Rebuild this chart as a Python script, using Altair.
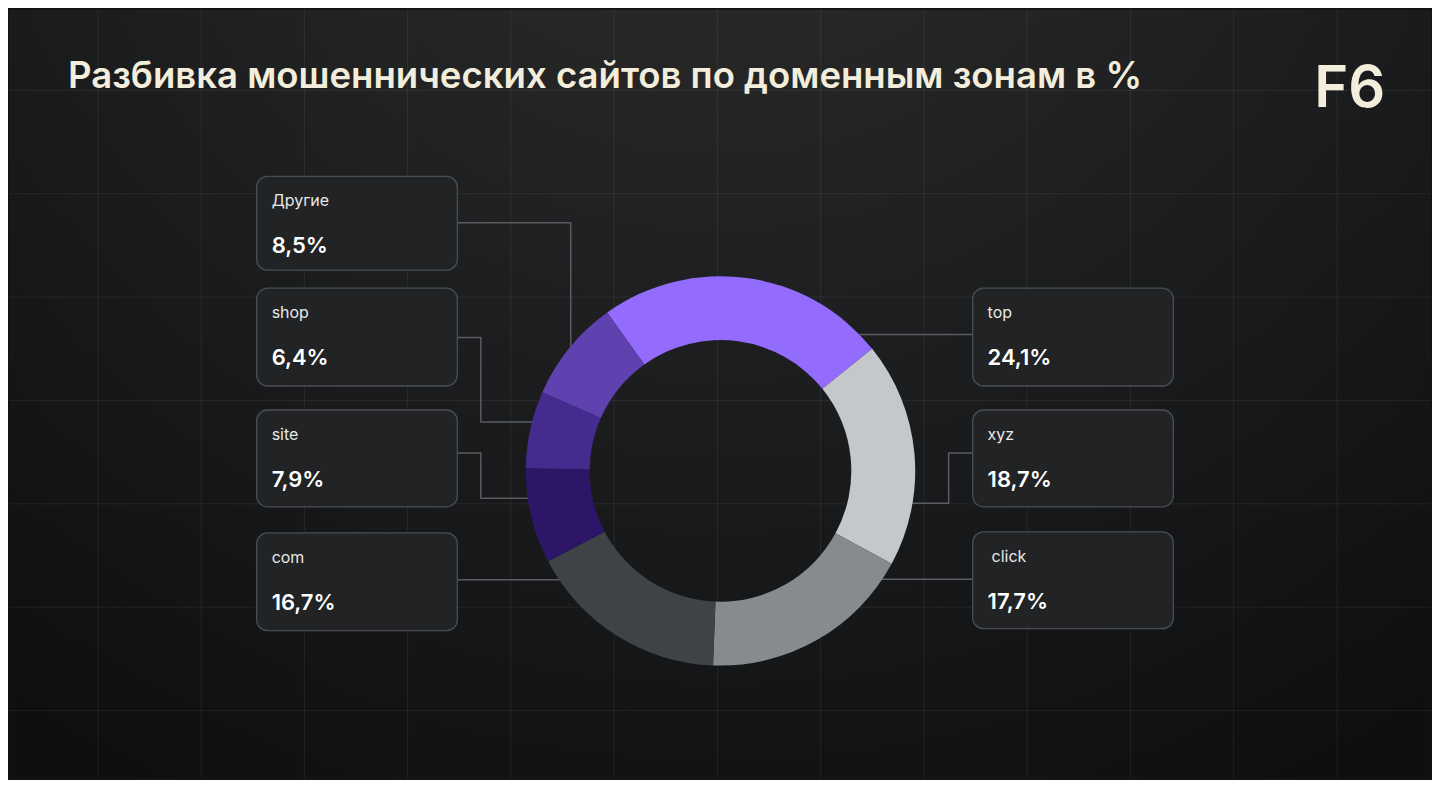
import altair as alt
import pandas as pd
import numpy as np

# ---------------- data ----------------
zones = ["top", "xyz", "click", "com", "site", "shop", "Другие"]
shares = [24.1, 18.7, 17.7, 16.7, 7.9, 6.4, 8.5]
value_labels = ["24,1%", "18,7%", "17,7%", "16,7%", "7,9%", "6,4%", "8,5%"]
box_names = ["top", "xyz", "click", "com", "site", "shop", "Другие"]
zone_colors = ["#936BFD", "#C5C8CA", "#878B8E", "#3F4246", "#2D1567", "#452B8E", "#5F42B0"]
title_text = "Разбивка мошеннических сайтов по доменным зонам в %"
logo_text = "F6"

# ---------------- layout (page pixels) ----------------
W, H = 1424, 770
OFF = 8
CX, CY = 720.5, 470
R_OUT, R_IN = 195, 131
START = -35.6 * np.pi / 180

box_left = [973, 973, 973, 256, 256, 256, 256]
box_top = [287, 409, 531, 532, 409, 287, 175]
box_bottom = [385, 506, 628, 630, 506, 385, 269]
name_indent = [15, 15, 19, 15, 15, 15, 15]
BOX_W = 201

connectors = {
    "top": [(860, 333.5), (973, 333.5)],
    "xyz": [(973, 452), (949, 452), (949, 502.5), (905, 502.5)],
    "click": [(973, 578.5), (875, 578.5)],
    "com": [(457, 579), (565, 579)],
    "site": [(457, 452), (480.5, 452), (480.5, 497.5), (535, 497.5)],
    "shop": [(457, 336.5), (480.5, 336.5), (480.5, 421), (540, 421)],
    "Другие": [(457, 221.5), (570.5, 221.5), (570.5, 360)],
}

grid_x = 97 + 103.4 * np.arange(13)
grid_y = 89 + 103.5 * np.arange(7)

xs = alt.Scale(domain=[OFF, OFF + W], nice=False, zero=False)
ys = alt.Scale(domain=[OFF, OFF + H], nice=False, zero=False, reverse=True)

def X(f):
    return alt.X(f, type="quantitative", scale=xs, axis=None)

def Y(f):
    return alt.Y(f, type="quantitative", scale=ys, axis=None)

# background
bg_df = pd.DataFrame({"x": [OFF], "x2": [OFF + W], "y": [OFF], "y2": [OFF + H]})
bg = alt.Chart(bg_df).mark_rect(
    fill=alt.RadialGradient(
        gradient="radial",
        x1=0.5, y1=0.02, r1=0.0,
        x2=0.5, y2=0.02, r2=0.85,
        stops=[
            alt.GradientStop(color="#2f2f2f", offset=0),
            alt.GradientStop(color="#1e1f20", offset=0.5),
            alt.GradientStop(color="#0e0f10", offset=1),
        ],
    )
).encode(x=X("x"), x2="x2", y=Y("y"), y2="y2")

vgrid = alt.Chart(pd.DataFrame({"x": grid_x})).mark_rule(
    color="#ffffff", opacity=0.07, strokeWidth=1
).encode(x=X("x"))
hgrid = alt.Chart(pd.DataFrame({"y": grid_y})).mark_rule(
    color="#ffffff", opacity=0.07, strokeWidth=1
).encode(y=Y("y"))

# connectors
rows = []
for z, pts in connectors.items():
    for i, (px, py) in enumerate(pts):
        rows.append({"zone": z, "i": i, "x": px, "y": py})
conn = alt.Chart(pd.DataFrame(rows)).mark_line(
    color="#5a5c5f", strokeWidth=1.5, strokeJoin="round"
).encode(x=X("x"), y=Y("y"), detail="zone:N", order="i:Q")

# donut
pie_df = pd.DataFrame({"zone": zones, "share": shares, "idx": range(len(zones))})
donut = alt.Chart(pie_df).mark_arc(
    outerRadius=R_OUT, innerRadius=R_IN
).encode(
    theta=alt.Theta("share:Q", stack=True,
                    scale=alt.Scale(range=[START, START + 2 * np.pi])),
    color=alt.Color("zone:N", scale=alt.Scale(domain=zones, range=zone_colors), legend=None),
    order=alt.Order("idx:Q"),
    x=alt.XDatum(CX, scale=xs, axis=None),
    y=alt.YDatum(CY, scale=ys, axis=None),
)

# boxes
box_df = pd.DataFrame({
    "zone": zones, "name": box_names, "value": value_labels,
    "x": box_left, "x2": [b + BOX_W for b in box_left],
    "y": box_top, "y2": box_bottom,
    "nx": [b + d for b, d in zip(box_left, name_indent)],
    "tx": [b + 15 for b in box_left],
    "ny": [t + 30 for t in box_top],
    "vy": [t + 77 for t in box_top],
})
boxes = alt.Chart(box_df).mark_rect(
    fill="#212325", stroke="#4b4e51", strokeWidth=1.3, cornerRadius=11
).encode(x=X("x"), x2="x2", y=Y("y"), y2="y2")
names = alt.Chart(box_df).mark_text(
    font="Inter", fontSize=16, color="#e8e8e8", align="left", baseline="alphabetic"
).encode(x=X("nx"), y=Y("ny"), text="name:N")
values = alt.Chart(box_df).mark_text(
    font="Inter", fontSize=22, fontWeight=600, color="#ffffff", align="left", baseline="alphabetic"
).encode(x=X("tx"), y=Y("vy"), text="value:N")

# title & logo
title_df = pd.DataFrame({"t": [title_text], "x": [67], "y": [87]})
title = alt.Chart(title_df).mark_text(
    font="Inter", fontSize=36.6, fontWeight=600, color="#F3EDDC", align="left", baseline="alphabetic"
).encode(x=X("x"), y=Y("y"), text="t:N")
logo_df = pd.DataFrame({"t": [logo_text], "x": [1315], "y": [106]})
logo = alt.Chart(logo_df).mark_text(
    font="Inter", fontSize=58, fontWeight=600, color="#F3EDDC", align="left", baseline="alphabetic"
).encode(x=X("x"), y=Y("y"), text="t:N")

chart = alt.layer(bg, vgrid, hgrid, conn, donut, boxes, names, values, title, logo).properties(
    width=W, height=H, padding=0, background="#111213"
).configure_view(stroke=None)

chart.save("out.html", embed_options={"renderer": "svg", "actions": False})
